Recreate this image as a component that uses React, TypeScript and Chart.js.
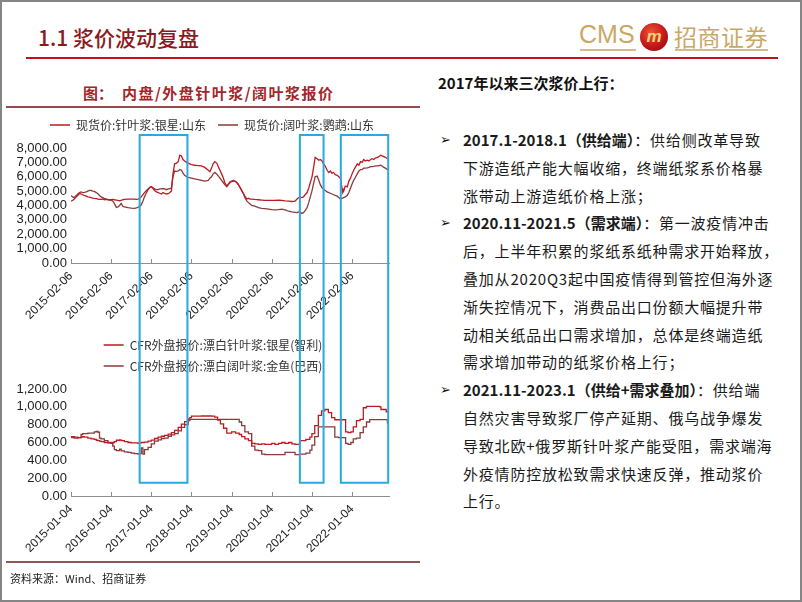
import React, { useEffect, useRef } from 'react';
import { Chart, registerables } from 'chart.js';

Chart.register(...registerables);

// ---------------- data ----------------
// x values are years elapsed since the first observation (axis start)
const tickYears = [0, 1, 2, 3, 4, 5, 6, 7];
const topTickLabels = ['2015-02-06', '2016-02-06', '2017-02-06', '2018-02-06', '2019-02-06', '2020-02-06', '2021-02-06', '2022-02-06'];
const bottomTickLabels = ['2015-01-04', '2016-01-04', '2017-01-04', '2018-01-04', '2019-01-04', '2020-01-04', '2021-01-04', '2022-01-04'];
const axisEnd = 7.92;

const topSeriesNames = ['现货价:针叶浆:银星:山东', '现货价:阔叶浆:鹦鹉:山东'];
const bottomSeriesNames = ['CFR外盘报价:漂白针叶浆:银星(智利)', 'CFR外盘报价:漂白阔叶浆:金鱼(巴西)'];

const topYears = [
  0, 0.04, 0.08, 0.13, 0.17, 0.21, 0.25, 0.29, 0.33, 0.38,
  0.42, 0.46, 0.5, 0.54, 0.58, 0.63, 0.67, 0.71, 0.75, 0.79,
  0.83, 0.88, 0.92, 0.96, 1.0, 1.04, 1.08, 1.13, 1.17, 1.21,
  1.25, 1.29, 1.33, 1.42, 1.5, 1.58, 1.63, 1.67, 1.71, 1.75,
  1.79, 1.83, 1.88, 1.92, 1.96, 2.0, 2.04, 2.08, 2.13, 2.17,
  2.21, 2.25, 2.29, 2.33, 2.38, 2.42, 2.46, 2.5, 2.54, 2.58,
  2.63, 2.67, 2.71, 2.75, 2.79, 2.83, 2.88, 2.92, 3.0, 3.08,
  3.17, 3.25, 3.33, 3.42, 3.46, 3.5, 3.54, 3.58, 3.63, 3.67,
  3.71, 3.75, 3.79, 3.83, 3.88, 3.92, 3.96, 4.0, 4.04, 4.08,
  4.13, 4.17, 4.21, 4.25, 4.29, 4.33, 4.38, 4.42, 4.46, 4.5,
  4.58, 4.67, 4.75, 4.83, 4.92, 5.0, 5.08, 5.17, 5.25, 5.33,
  5.42, 5.5, 5.58, 5.63, 5.67, 5.71, 5.75, 5.79, 5.83, 5.88,
  5.92, 5.96, 6.0, 6.04, 6.08, 6.13, 6.17, 6.21, 6.25, 6.29,
  6.33, 6.38, 6.42, 6.46, 6.5, 6.54, 6.58, 6.63, 6.67, 6.71,
  6.75, 6.77, 6.79, 6.83, 6.88, 6.92, 6.96, 7.0, 7.04, 7.08,
  7.13, 7.17, 7.21, 7.25, 7.29, 7.33, 7.38, 7.42, 7.46, 7.5,
  7.54, 7.58, 7.63, 7.67, 7.71, 7.75, 7.79, 7.83, 7.88, 7.9,
];
const topSoftwood = [
  4300, 4350, 4450, 4600, 4700, 4850, 4800, 4750, 4700, 4650,
  4600, 4580, 4550, 4520, 4500, 4480, 4450, 4420, 4420, 4450,
  4400, 4420, 4400, 4380, 4400, 4420, 4400, 4380, 4350, 4330,
  4350, 4400, 4420, 4450, 4450, 4450, 4430, 4450, 4500, 4600,
  4750, 4900, 5050, 5150, 5250, 5300, 5200, 5050, 4950, 4900,
  4850, 4800, 4900, 4850, 4800, 4820, 4900, 5000, 6200, 6900,
  6950, 7050, 7500, 7450, 7200, 7100, 7000, 6950, 6850, 6800,
  6780, 6750, 6650, 6450, 6350, 6600, 6900, 7050, 6950, 6700,
  6450, 6200, 5950, 5600, 5350, 5500, 5650, 5700, 5750, 5700,
  5600, 5450, 5250, 5050, 4850, 4650, 4450, 4500, 4450, 4450,
  4420, 4400, 4380, 4350, 4360, 4350, 4360, 4370, 4350, 4320,
  4300, 4280, 4300, 4450, 4550, 4580, 4550, 4600, 4750, 4900,
  5200, 5600, 5950, 6600, 7350, 7250, 7150, 7200, 7100, 6900,
  6750, 6450, 6300, 6400, 6250, 6300, 6150, 6100, 6000, 5900,
  5200, 4900, 5000, 5350, 5300, 5700, 5900, 6200, 6450, 6650,
  6900, 6800, 7050, 7000, 7200, 7100, 7150, 7100, 7200, 7250,
  7200, 7300, 7350, 7400, 7500, 7450, 7400, 7350, 7250, 7230,
];
const topHardwood = [
  4680, 4600, 4550, 4700, 4800, 4900, 4950, 4900, 4920, 4950,
  5000, 5050, 5050, 5000, 4980, 4900, 4820, 4700, 4600, 4550,
  4500, 4450, 4420, 4400, 4380, 4300, 4150, 3870, 3900, 4000,
  4150, 3950, 3900, 3850, 3820, 3800, 3830, 3880, 3950, 4050,
  4300, 4600, 4900, 5100, 5250, 5300, 5250, 5150, 5100, 5100,
  5150, 5150, 5180, 5150, 5100, 5150, 5180, 5200, 6000, 6400,
  6380, 6400, 6500, 6450, 6250, 6100, 6000, 5950, 5900, 5850,
  5800, 5750, 5700, 5750, 5900, 6000, 6200, 6300, 6200, 6050,
  5900, 5750, 5600, 5450, 5300, 5450, 5600, 5650, 5700, 5700,
  5600, 5450, 5250, 5050, 4850, 4550, 4300, 4200, 4100, 4000,
  3950, 3850, 3800, 3780, 3750, 3720, 3700, 3720, 3750, 3700,
  3600, 3550, 3520, 3500, 3550, 3520, 3450, 3500, 3650, 3850,
  4200, 4600, 5000, 5500, 6000, 6050, 5750, 5450, 5250, 5150,
  5050, 4950, 4900, 4850, 4800, 4750, 4700, 4650, 4550, 4450,
  4500, 4500, 4550, 4600, 4700, 4900, 5200, 5500, 5750, 5950,
  6200, 6400, 6500, 6500, 6600, 6600, 6620, 6650, 6700, 6700,
  6720, 6750, 6750, 6780, 6800, 6750, 6650, 6600, 6500, 6450,
];

const bottomYears = [
  0, 0.08, 0.17, 0.25, 0.29, 0.33, 0.42, 0.5, 0.58, 0.63,
  0.67, 0.71, 0.75, 0.83, 0.92, 1.0, 1.04, 1.08, 1.13, 1.21,
  1.25, 1.33, 1.42, 1.5, 1.58, 1.67, 1.71, 1.75, 1.79, 1.83,
  1.92, 2.0, 2.08, 2.17, 2.25, 2.33, 2.42, 2.5, 2.58, 2.67,
  2.75, 2.83, 2.92, 2.96, 3.0, 3.25, 3.5, 3.58, 3.65, 3.72,
  3.8, 3.88, 4.0, 4.1, 4.19, 4.25, 4.33, 4.42, 4.5, 4.58,
  4.67, 4.75, 4.83, 5.0, 5.08, 5.17, 5.25, 5.33, 5.42, 5.5,
  5.58, 5.7, 5.85, 5.95, 6.0, 6.07, 6.16, 6.24, 6.32, 6.41,
  6.49, 6.57, 6.66, 6.78, 6.84, 6.9, 6.97, 7.03, 7.11, 7.2,
  7.28, 7.36, 7.44, 7.69, 7.72, 7.85, 7.88, 7.9,
];
const bottomSoftwood = [
  665, 660, 655, 660, 665, 660, 650, 640, 635, 625,
  620, 615, 610, 600, 595, 590, 600, 610, 625, 630,
  620, 610, 600, 595, 595, 590, 595, 600, 600, 605,
  615, 626, 645, 660, 670, 680, 695, 710, 735, 770,
  805, 835, 865, 880, 895, 897, 895, 885, 850, 810,
  760, 705, 720, 705, 690, 665, 640, 620, 590, 585,
  580, 585, 580, 590, 580, 590, 600, 590, 600, 585,
  578, 620, 636, 660, 700, 790, 905, 955, 970, 935,
  880, 855, 855, 855, 720, 710, 720, 775, 845, 860,
  990, 1005, 1005, 1000, 970, 945, 945, 940,
];
const bottomHardwood = [
  655, 650, 655, 690, 700, 700, 705, 705, 720, 725,
  715, 650, 640, 620, 600, 590, 560, 520, 510, 525,
  505, 495, 490, 480, 475, 470, 475, 540, 470, 520,
  545, 585, 615, 630, 645, 650, 670, 685, 700, 730,
  770, 800, 845, 860, 860, 860, 860, 860, 860, 860,
  860, 860, 860, 860, 830, 790, 720, 700, 560, 515,
  510, 470, 465, 465, 465, 465, 465, 490, 490, 490,
  465, 470, 480, 515, 570, 665, 775, 775, 775, 775,
  775, 660, 655, 655, 590, 578, 600, 640, 650, 710,
  775, 830, 857, 857, 857, 857, 820, 820,
];

// three price-rally windows (years since axis start)
const rallyStarts = [1.71, 5.7, 6.72];
const rallyEnds = [2.9, 6.29, 7.9];

// ---------------- styles ----------------
const SOFT_COLOR = '#BE1A22';
const HARD_COLOR = '#8A3A3A';
const BOX_COLOR = '#2AA8E0';
const AXIS_COLOR = '#8E8E8E';
const CJK = '"Noto Sans CJK SC", "Noto Sans", sans-serif';
const NUM = '"Liberation Sans", Arial, sans-serif';

const fmt = (v: number) =>
  Number(v).toLocaleString('en-US', { minimumFractionDigits: 2, maximumFractionDigits: 2 });

// fixes the legend block height and shifts it horizontally
const legendBoxPlugin = {
  id: 'legendBox',
  beforeUpdate(chart: any, _a: any, o: any) {
    const lg = chart.legend;
    if (lg && !lg.__fixedHeight) {
      const fit = lg.fit;
      lg.fit = function () {
        fit.call(this);
        this.height = o.height;
      };
      lg.__fixedHeight = true;
    }
  },
  afterLayout(chart: any, _a: any, o: any) {
    const lg = chart.legend;
    if (lg) {
      lg.left += o.shift;
      lg.right += o.shift;
    }
  },
};

const innerTicksPlugin = {
  id: 'innerTicks',
  afterDraw(chart: any) {
    const { ctx, chartArea } = chart;
    const x = chart.scales.x;
    ctx.save();
    ctx.strokeStyle = AXIS_COLOR;
    ctx.lineWidth = 1;
    x.ticks.forEach((t: any) => {
      const px = Math.round(x.getPixelForValue(t.value)) + 0.5;
      ctx.beginPath();
      ctx.moveTo(px, chartArea.bottom);
      ctx.lineTo(px, chartArea.bottom - 4);
      ctx.stroke();
    });
    ctx.restore();
  },
};

const rallyBoxesPlugin = {
  id: 'rallyBoxes',
  afterDraw(chart: any, _a: any, o: any) {
    const { ctx, chartArea } = chart;
    const x = chart.scales.x;
    const y = chart.scales.y;
    const top = o.topGap != null ? chartArea.top - o.topGap : 0;
    const bottom = o.bottomValue != null ? y.getPixelForValue(o.bottomValue) : chart.height;
    ctx.save();
    ctx.strokeStyle = BOX_COLOR;
    ctx.lineWidth = 2;
    rallyStarts.forEach((s, i) => {
      const x0 = x.getPixelForValue(s);
      const x1 = x.getPixelForValue(rallyEnds[i]);
      ctx.beginPath();
      if (o.topGap != null) {
        ctx.moveTo(x0, bottom);
        ctx.lineTo(x0, top);
        ctx.lineTo(x1, top);
        ctx.lineTo(x1, bottom);
      } else {
        ctx.moveTo(x0, top);
        ctx.lineTo(x0, bottom);
        ctx.lineTo(x1, bottom);
        ctx.lineTo(x1, top);
      }
      ctx.stroke();
    });
    ctx.restore();
  },
};

function makeConfig(p: {
  years: number[];
  soft: number[];
  hard: number[];
  names: string[];
  tickLabels: string[];
  yMax: number;
  yStep: number;
  stepped: boolean;
  padTop: number;
  padBottom: number;
  legendPad: number;
  legendHeight: number;
  legendShift: number;
  boxes: any;
}): any {
  const mk = (vals: number[]) => p.years.map((t, i) => ({ x: t, y: vals[i] }));
  return {
    type: 'line',
    data: {
      datasets: [
        {
          label: p.names[0],
          data: mk(p.soft),
          borderColor: SOFT_COLOR,
          backgroundColor: SOFT_COLOR,
          borderWidth: 1.3,
          pointRadius: 0,
          stepped: p.stepped,
          tension: 0,
        },
        {
          label: p.names[1],
          data: mk(p.hard),
          borderColor: HARD_COLOR,
          backgroundColor: HARD_COLOR,
          borderWidth: 1.3,
          pointRadius: 0,
          stepped: p.stepped,
          tension: 0,
        },
      ],
    },
    options: {
      animation: false,
      responsive: false,
      maintainAspectRatio: false,
      devicePixelRatio: 1,
      events: [],
      layout: { padding: { left: 0, right: 31, top: p.padTop, bottom: p.padBottom } },
      plugins: {
        legend: {
          display: true,
          position: 'top',
          labels: {
            usePointStyle: true,
            pointStyle: 'line',
            pointStyleWidth: 20,
            padding: p.legendPad,
            color: '#333333',
            font: { family: CJK, size: 12 },
          },
        },
        tooltip: { enabled: false },
        legendBox: { height: p.legendHeight, shift: p.legendShift },
        rallyBoxes: p.boxes,
      },
      scales: {
        x: {
          type: 'linear',
          min: 0,
          max: axisEnd,
          afterBuildTicks: (s: any) => {
            s.ticks = tickYears.map((v) => ({ value: v }));
          },
          afterFit: (s: any) => {
            s.height = 60;
          },
          grid: { display: false, drawTicks: false },
          border: { display: true, color: AXIS_COLOR, width: 1 },
          ticks: {
            autoSkip: false,
            minRotation: 45,
            maxRotation: 45,
            padding: 6,
            color: '#222222',
            font: { family: NUM, size: 12 },
            callback: (_v: any, i: number) => p.tickLabels[i],
          },
        },
        y: {
          min: 0,
          max: p.yMax,
          afterFit: (s: any) => {
            s.width = 71;
          },
          grid: { display: false, drawTicks: false },
          border: { display: false },
          ticks: {
            stepSize: p.yStep,
            autoSkip: false,
            padding: 4,
            color: '#222222',
            font: { family: NUM, size: 13 },
            callback: (v: any) => fmt(v),
          },
        },
      },
    },
    plugins: [legendBoxPlugin, innerTicksPlugin, rallyBoxesPlugin],
  };
}

const abs = (s: React.CSSProperties): React.CSSProperties => ({ position: 'absolute', ...s });

const textLines: { bold?: string; text: string; bullet?: boolean }[] = [
  { bullet: true, bold: '2017.1-2018.1（供给端）', text: '：供给侧改革导致' },
  { text: '下游造纸产能大幅收缩，终端纸浆系价格暴' },
  { text: '涨带动上游造纸价格上涨；' },
  { bullet: true, bold: '2020.11-2021.5（需求端）', text: '：第一波疫情冲击' },
  { text: '后，上半年积累的浆纸系纸种需求开始释放，' },
  { text: '叠加从2020Q3起中国疫情得到管控但海外逐' },
  { text: '渐失控情况下，消费品出口份额大幅提升带' },
  { text: '动相关纸品出口需求增加，总体是终端造纸' },
  { text: '需求增加带动的纸浆价格上行；' },
  { bullet: true, bold: '2021.11-2023.1（供给+需求叠加）', text: '：供给端' },
  { text: '自然灾害导致浆厂停产延期、俄乌战争爆发' },
  { text: '导致北欧+俄罗斯针叶浆产能受阻，需求端海' },
  { text: '外疫情防控放松致需求快速反弹，推动浆价' },
  { text: '上行。' },
];

export default function App() {
  const topRef = useRef<HTMLCanvasElement>(null);
  const botRef = useRef<HTMLCanvasElement>(null);

  useEffect(() => {
    document.body.style.margin = '0';
    const c1 = new Chart(
      topRef.current as HTMLCanvasElement,
      makeConfig({
        years: topYears,
        soft: topSoftwood,
        hard: topHardwood,
        names: topSeriesNames,
        tickLabels: topTickLabels,
        yMax: 8000,
        yStep: 1000,
        stepped: false,
        padTop: 7,
        padBottom: 5,
        legendPad: 12,
        legendHeight: 41,
        legendShift: 17.5,
        boxes: { topGap: 13 },
      })
    );
    const c2 = new Chart(
      botRef.current as HTMLCanvasElement,
      makeConfig({
        years: bottomYears,
        soft: bottomSoftwood,
        hard: bottomHardwood,
        names: bottomSeriesNames,
        tickLabels: bottomTickLabels,
        yMax: 1200,
        yStep: 200,
        stepped: true,
        padTop: 2,
        padBottom: 6,
        legendPad: 9,
        legendHeight: 59,
        legendShift: 18.5,
        boxes: { bottomValue: 150 },
      })
    );
    return () => {
      c1.destroy();
      c2.destroy();
    };
  }, []);

  return (
    <div style={abs({ left: 0, top: 0, width: 802, height: 602, background: '#ffffff', overflow: 'hidden', fontFamily: CJK })}>
      {/* header */}
      <div style={abs({ left: 38, top: 25, fontSize: 21, lineHeight: '24px', color: '#8B1A1E', fontWeight: 500, whiteSpace: 'nowrap' })}>
        1.1 浆价波动复盘
      </div>
      <div style={abs({ left: 26, top: 57, width: 752, height: 2, background: '#C0121B' })} />
      <div style={abs({ left: 579, top: 22, fontSize: 25, lineHeight: '25px', color: '#C9A866', fontFamily: NUM, whiteSpace: 'nowrap' })}>
        CMS
      </div>
      <div style={abs({ left: 580, top: 49, width: 56, height: 1.5, background: '#D5BC85' })} />
      <div
        style={abs({
          left: 640,
          top: 23,
          width: 28,
          height: 28,
          borderRadius: '50%',
          background: 'radial-gradient(circle at 40% 35%, #EE5534 0%, #C2161B 55%, #7E0B0E 100%)',
          color: '#F3D27C',
          fontFamily: NUM,
          fontWeight: 700,
          fontStyle: 'italic',
          fontSize: 17,
          lineHeight: '28px',
          textAlign: 'center',
        })}
      >
        m
      </div>
      <div style={abs({ left: 674, top: 24, fontSize: 23, lineHeight: '25px', letterSpacing: 0.5, color: '#C9A866', whiteSpace: 'nowrap' })}>
        招商证券
      </div>
      <div style={abs({ left: 675, top: 49, width: 93, height: 1.5, background: '#D5BC85' })} />

      {/* left panel */}
      <div style={abs({ left: 83, top: 83, fontSize: 15, lineHeight: '20px', fontWeight: 700, color: '#A3262B', whiteSpace: 'nowrap' })}>
        图：
      </div>
      <div style={abs({ left: 122, top: 83, fontSize: 15, lineHeight: '20px', fontWeight: 700, color: '#A3262B', letterSpacing: 1.5, whiteSpace: 'nowrap' })}>
        内盘/外盘针叶浆/阔叶浆报价
      </div>
      <div style={abs({ left: 6, top: 106, width: 414, height: 2, background: '#9A4A4A' })} />
      <canvas ref={topRef} width={420} height={228} style={abs({ left: 0, top: 100, width: 420, height: 228 })} />
      <canvas ref={botRef} width={420} height={234} style={abs({ left: 0, top: 328, width: 420, height: 234 })} />
      <div style={abs({ left: 6, top: 561, width: 414, height: 2, background: '#8E5757' })} />
      <div style={abs({ left: 10, top: 571, fontSize: 11, lineHeight: '14px', color: '#222', whiteSpace: 'nowrap' })}>
        资料来源：Wind、招商证券
      </div>

      {/* right panel */}
      <div style={abs({ left: 438, top: 73, fontSize: 15, lineHeight: '20px', fontWeight: 700, color: '#111', whiteSpace: 'nowrap' })}>
        2017年以来三次浆价上行：
      </div>
      {textLines.map((ln, i) => {
        const center = 140 + i * 27.8;
        return (
          <React.Fragment key={i}>
            {ln.bullet && (
              <div style={abs({ left: 440, top: center - 10, fontSize: 13, lineHeight: '20px', color: '#111', fontFamily: '"DejaVu Sans", sans-serif' })}>
                ➢
              </div>
            )}
            <div style={abs({ left: 463, top: center - 10, fontSize: 15, lineHeight: '20px', letterSpacing: 0.8, color: '#1a1a1a', whiteSpace: 'nowrap' })}>
              {ln.bold && <span style={{ fontWeight: 700, letterSpacing: 0 }}>{ln.bold}</span>}
              {ln.text}
            </div>
          </React.Fragment>
        );
      })}

      {/* slide frame */}
      <div style={abs({ left: 0, top: 0, width: 802, height: 602, boxSizing: 'border-box', border: '2px solid #858585', pointerEvents: 'none' })} />
    </div>
  );
}
